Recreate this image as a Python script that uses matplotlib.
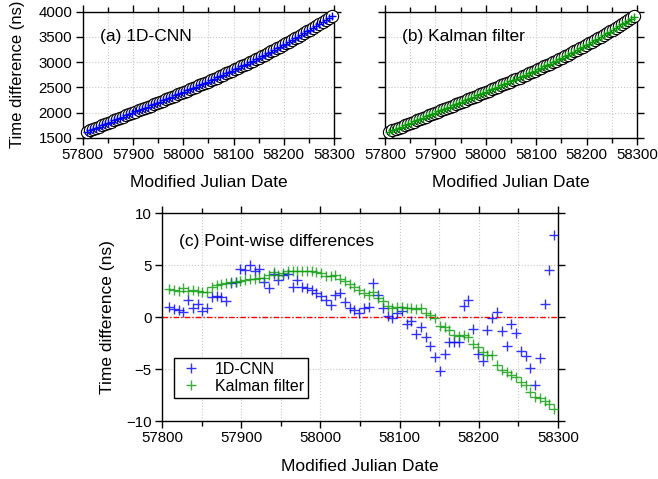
import numpy as np
import matplotlib
matplotlib.use("Agg")
import matplotlib.pyplot as plt
from matplotlib.ticker import MultipleLocator

plt.rcParams['font.family'] = ['Liberation Sans', 'DejaVu Sans']

mjd = [57809, 57815, 57821, 57827, 57833, 57839, 57845, 57851, 57857, 57863, 57869, 57875,
       57881, 57887, 57893, 57899, 57905, 57911, 57917, 57923, 57929, 57935, 57941, 57947,
       57953, 57959, 57965, 57971, 57977, 57983, 57989, 57995, 58001, 58007, 58013, 58019,
       58025, 58031, 58037, 58043, 58049, 58055, 58061, 58067, 58073, 58079, 58085, 58091,
       58097, 58103, 58109, 58115, 58121, 58127, 58133, 58139, 58145, 58151, 58157, 58163,
       58169, 58175, 58181, 58187, 58193, 58199, 58205, 58211, 58217, 58223, 58229, 58235,
       58241, 58247, 58253, 58259, 58265, 58271, 58277, 58283, 58289, 58295]
ref = [1618, 1644, 1669, 1695, 1720, 1745, 1770, 1795, 1820, 1845, 1870, 1894, 1919, 1944,
       1968, 1993, 2017, 2042, 2066, 2090, 2115, 2139, 2164, 2188, 2213, 2237, 2262, 2286,
       2311, 2336, 2361, 2386, 2411, 2436, 2461, 2486, 2512, 2537, 2563, 2589, 2615, 2641,
       2668, 2694, 2721, 2748, 2775, 2802, 2830, 2857, 2885, 2914, 2942, 2971, 3000, 3029,
       3059, 3088, 3118, 3149, 3180, 3211, 3242, 3274, 3306, 3338, 3371, 3404, 3437, 3471,
       3505, 3539, 3574, 3610, 3646, 3682, 3718, 3755, 3793, 3831, 3869, 3908]

cnn_diff = [1.0, 0.8, 0.7, 0.5, 1.7, 0.9, 1.3, 0.6, 0.9, 1.9, 2.0, 1.9, 1.6, 3.3, 3.4, 4.6,
            4.5, 5.0, 4.4, 4.6, 3.4, 2.8, 4.2, 3.6, 4.1, 4.2, 2.9, 3.6, 2.9, 2.8, 2.6, 2.3,
            2.0, 1.7, 1.2, 2.1, 2.3, 1.5, 0.9, 0.7, 0.4, 0.9, 1.0, 3.3, 2.1, 0.9, 0.1, -0.1,
            0.4, 0.6, -0.7, -0.4, -1.6, -0.9, -1.9, -2.8, -3.8, -5.2, -3.5, -2.4, -2.4, -2.4,
            1.1, 1.7, -1.1, -3.5, -4.2, -1.2, -0.1, 0.5, -1.3, -2.8, -0.7, -1.5, -3.3, -3.7,
            -4.9, -6.5, -3.9, 1.3, 4.5, 7.9]
kal_diff = [2.7, 2.6, 2.5, 2.8, 2.5, 2.6, 2.5, 2.45, 2.4, 2.9, 3.1, 3.2, 3.3, 3.4, 3.4, 3.5,
            3.6, 3.7, 3.7, 3.8, 3.8, 4.1, 4.35, 4.1, 4.3, 4.4, 4.4, 4.45, 4.45, 4.45, 4.4, 4.35,
            4.25, 3.95, 4.0, 4.05, 3.7, 3.45, 3.2, 2.9, 2.65, 2.35, 2.15, 2.45, 1.85, 1.55, 1.1, 0.9,
            0.95, 1.0, 0.85, 0.85, 0.8, 0.85, 0.4, 0.2, -0.1, -0.85, -0.9, -1.2, -1.7, -1.8,
            -1.7, -1.9, -2.55, -2.9, -3.4, -3.6, -3.65, -4.6, -5.05, -5.3, -5.6, -5.8, -6.2, -6.5,
            -7.2, -7.7, -7.8, -8.1, -8.35, -8.8]

blue = '#0000ff'
green = '#0a9a0a'

fig = plt.figure(figsize=(6.58, 4.79), dpi=100)

def style(ax, ymaj, show_ylabels=True):
    ax.set_xlim(57800, 58300)
    ax.xaxis.set_major_locator(MultipleLocator(100))
    ax.xaxis.set_minor_locator(MultipleLocator(50))
    ax.yaxis.set_major_locator(MultipleLocator(ymaj))
    ax.tick_params(which='both', direction='out', top=True, right=True, labelsize=10.8, width=1)
    ax.tick_params(which='major', length=5, pad=2.5)
    ax.tick_params(which='minor', length=3.5)
    ax.grid(which='both', color='#c8c8c8', linestyle=':', linewidth=0.8)
    ax.set_axisbelow(True)
    for s in ax.spines.values():
        s.set_linewidth(1)
    if not show_ylabels:
        ax.tick_params(axis='y', labelleft=False)

axa = fig.add_axes([0.1257, 0.7125, 0.382, 0.263])
axb = fig.add_axes([0.585, 0.7125, 0.383, 0.263])
axc = fig.add_axes([0.2462, 0.121, 0.6018, 0.4337])

ref_arr = np.array(ref, dtype=float)
cnn_top = ref_arr + np.array(cnn_diff)
kal_top = ref_arr + np.array(kal_diff)

for ax, vals, col, lab in [(axa, cnn_top, blue, '(a) 1D-CNN'), (axb, kal_top, green, '(b) Kalman filter')]:
    ax.plot(mjd, ref, 'o', ms=8.8, mfc='white', mec='black', mew=0.8, ls='none', clip_on=False, zorder=3)
    ax.plot(mjd, vals, '+', ms=6, mec=col, mew=1.0, ls='none', clip_on=False, zorder=4)
    ax.set_ylim(1500, 4000)
    style(ax, 500, show_ylabels=(ax is axa))
    ax.set_xlabel('Modified Julian Date', fontsize=12.5, labelpad=9)
    ax.text(0.069, 0.80, lab, transform=ax.transAxes, fontsize=12.5, va='center')
axa.set_ylabel('Time difference (ns)', fontsize=12, labelpad=10)

axc.axhline(0, color='red', lw=1, ls=(0, (4, 1.5, 1, 1.5)), zorder=2)
axc.plot(mjd, cnn_diff, '+', ms=7.5, mec=blue, mew=1.0, alpha=0.8, ls='none', label='1D-CNN', zorder=3)
axc.plot(mjd, kal_diff, '+', ms=7.5, mec=green, mew=1.0, alpha=0.8, ls='none', label='Kalman filter', zorder=4)
axc.set_ylim(-10, 10)
style(axc, 5)
axc.set_xlabel('Modified Julian Date', fontsize=12.5, labelpad=10)
axc.set_ylabel('Time difference (ns)', fontsize=12.5, labelpad=8)
axc.text(0.043, 0.865, '(c) Point-wise differences', transform=axc.transAxes, fontsize=12.5, va='center')
leg = axc.legend(loc='lower left', bbox_to_anchor=(0.03, 0.111), borderaxespad=0, fancybox=False,
                 edgecolor='black', framealpha=1, fontsize=11.5, handletextpad=0.7, borderpad=0.25,
                 labelspacing=0.15, handlelength=1.6)
leg.get_frame().set_linewidth(1)

fig.savefig('out.png', dpi=100)
